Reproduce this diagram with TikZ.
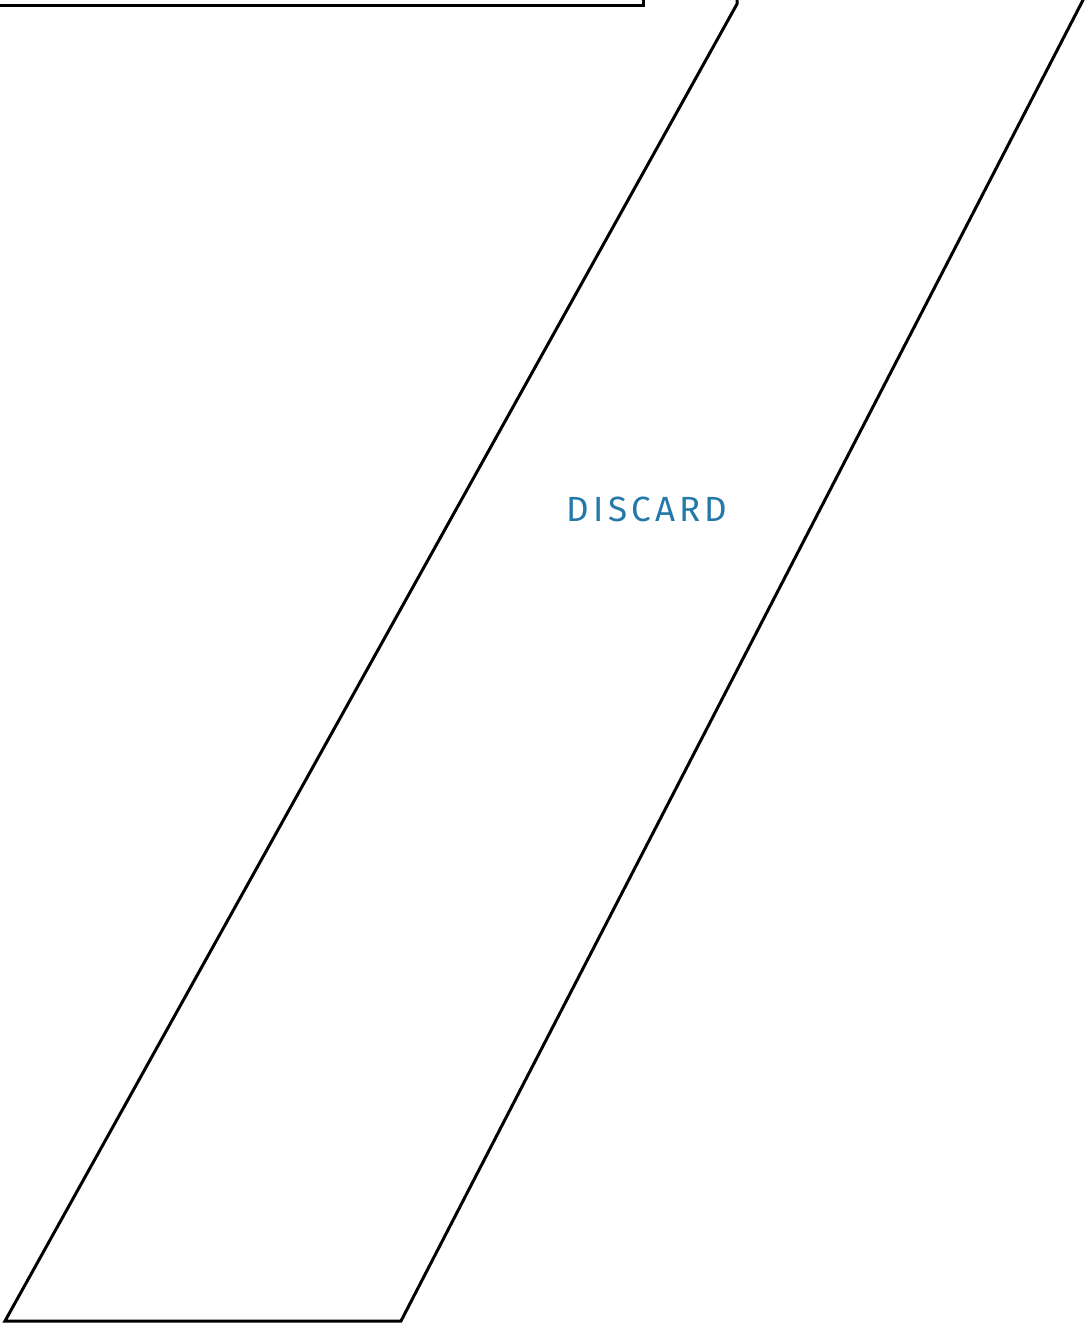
\documentclass[tikz,border=0pt]{standalone}
\usepackage{fontspec}
\newfontfamily\labelfont[LetterSpace=12]{Fira Sans}
\definecolor{discardblue}{HTML}{2479A8}
\begin{document}
\begin{tikzpicture}[x=1pt,y=1pt,
  outline/.style={draw=black,line width=3pt,line join=miter},
  lbl/.style={font=\labelfont\fontsize{35}{40}\selectfont,text=discardblue,inner sep=0pt}]
\useasboundingbox (0,0) rectangle (1086,-1324);
\clip (0,0) rectangle (1086,-1324);
\draw[outline] (-10,10) rectangle (643,-6);
\draw[outline] (737,10) -- (737,-4) -- (5,-1321) -- (401,-1321) -- (1088.2,10);
\node[lbl] (discard) at (647,-509) {DISCARD};
\end{tikzpicture}
\end{document}
